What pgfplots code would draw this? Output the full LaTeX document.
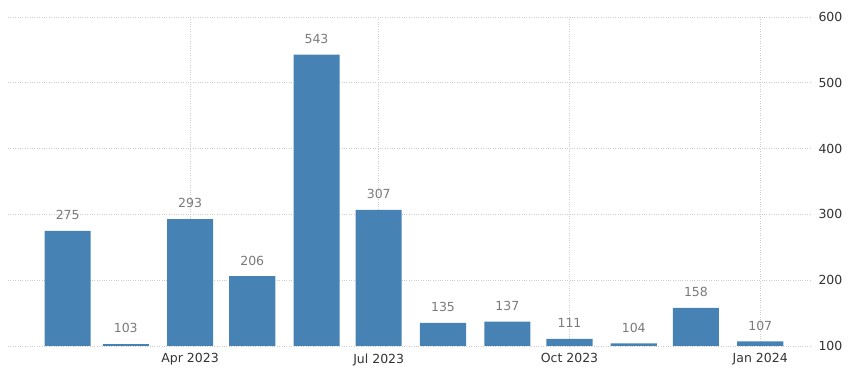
\documentclass[border=0pt]{standalone}
\usepackage{fontspec}
\setmainfont{DejaVu Sans}
\usepackage{pgfplots}
\pgfplotsset{compat=1.18}
\definecolor{barblue}{HTML}{4682B4}
\definecolor{lblgray}{HTML}{7A7A7A}
\definecolor{tickdark}{HTML}{333333}
\begin{document}
\begin{tikzpicture}[x=1pt,y=1pt]
\path[use as bounding box] (-8,-28) rectangle (847,346);
\begin{axis}[at={(0,0)}, anchor=south west, scale only axis,
  width=802pt, height=329pt,
  xmin=2.2, xmax=389, ymin=100, ymax=600,
  axis line style={draw=none},
  major tick length=0pt,
  ytick={100,200,300,400,500,600},
  yticklabel pos=right,
  xtick={90,181,273,365},
  xticklabels={Apr 2023,Jul 2023,Oct 2023,Jan 2024},
  /pgf/number format/assume math mode=true,
  ticklabel style={font=\fontsize{12.5}{14}\selectfont, text=tickdark},
  yticklabel style={anchor=west, xshift=5pt},
  xticklabel style={yshift=-4pt},
  grid=major,
  major grid style={dotted, line width=0.6pt, black!20},
  ybar, bar width=22.2, bar shift=0pt,
  nodes near coords,
  nodes near coords style={font=\fontsize{12.5}{14}\selectfont, text=lblgray, yshift=7.5pt},
]
\addplot[fill=barblue, draw=none] coordinates {
(31,275) (59,103) (90,293) (120,206) (151,543) (181,307)
(212,135) (243,137) (273,111) (304,104) (334,158) (365,107)
};
\end{axis}
\end{tikzpicture}
\end{document}
